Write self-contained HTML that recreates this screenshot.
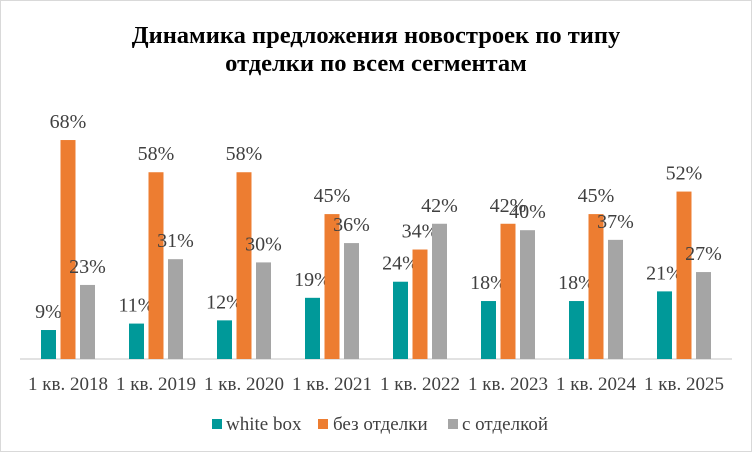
<!DOCTYPE html><html><head><meta charset="utf-8"><style>body{margin:0;background:#fff}svg text{font-family:"Liberation Serif",serif}</style></head><body>
<svg width="752" height="452" xmlns="http://www.w3.org/2000/svg">
<rect x="0.5" y="0.5" width="751" height="451" fill="#fff" stroke="#d9d9d9"/>
<text x="376" y="43" text-anchor="middle" font-size="24.5" font-weight="bold">Динамика  предложения  новостроек  по  типу</text>
<text x="376" y="71" text-anchor="middle" font-size="24.5" font-weight="bold">отделки по всем сегментам</text>
<line x1="20" y1="359" x2="732" y2="359" stroke="#d9d9d9" stroke-width="1.5"/>
<g id="bars"></g>
<g fill="#404040">
<rect x="212" y="419" width="10" height="10" fill="#009999"/><text x="226" y="430" font-size="19">white box</text>
<rect x="318" y="419" width="10" height="10" fill="#ED7D31"/><text x="333" y="430" font-size="19">без отделки</text>
<rect x="448" y="419" width="10" height="10" fill="#A5A5A5"/><text x="462" y="430" font-size="19">с отделкой</text>
</g>
</svg>
<script>
var d=[[9,68,23],[11,58,31],[12,58,30],[19,45,36],[24,34,42],[18,42,40],[18,45,37],[21,52,27]];
var c=["#009999","#ED7D31","#A5A5A5"],s="",k=3.22;
d.forEach(function(g,i){var x0=41+88*i;g.forEach(function(v,j){var x=x0+j*19.5,h=v*k,y=359-h;
s+='<rect x="'+x+'" y="'+y+'" width="15" height="'+h+'" fill="'+c[j]+'"/>';
s+='<text x="'+(x+7.5)+'" y="'+(y-12)+'" text-anchor="middle" font-size="20" fill="#404040">'+v+'%</text>';});
s+='<text x="'+(x0+27)+'" y="390" text-anchor="middle" font-size="19" fill="#404040">1 кв. '+(2018+i)+'</text>';});
document.getElementById("bars").innerHTML=s;
</script>
</body></html>
